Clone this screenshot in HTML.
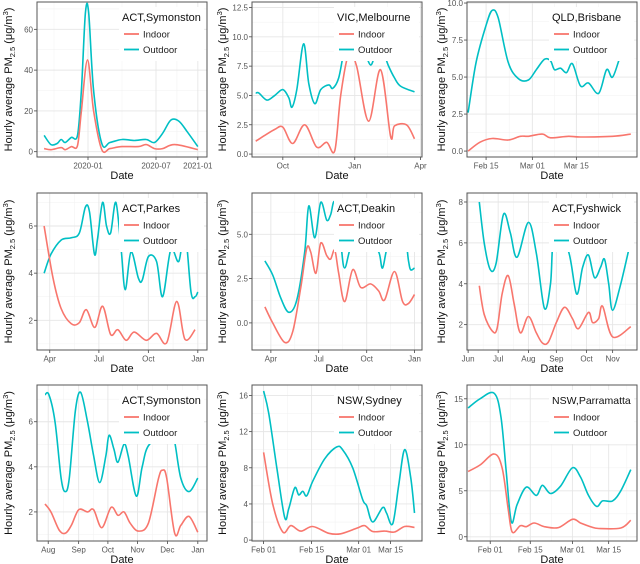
<!DOCTYPE html>
<html><head><meta charset="utf-8"><style>
html,body{margin:0;padding:0;background:#fff;}
svg{display:block;font-family:"Liberation Sans",Arial,sans-serif;}
</style></head><body>
<svg id="fig" width="640" height="564" viewBox="0 0 640 564"></svg>
<script>
// ---------- Panel 1: ACT,Symonston (2019-2021) ----------
const p1TickX=[30,70,94.6]; const p1TickLab=["2020-01","2020-07","2021-01"];
const p1YTicks=[0,20,40,60]; const p1YLab=["0","20","40","60"];
const p1OutX=[4.2,8.2,11.8,14.2,16.6,20.2,23.8,26.1,28.5,30.4,33.3,38.1,42.9,50,57.2,64.3,69.1,73.9,78.7,83.4,88.2,94.6];
const p1OutY=[8,3.5,4,6,4.5,7,8,30,68,68,30,4,4.5,6,5.5,6,4.5,9,15.5,15,10,2.5];
const p1InX=[4.2,8.2,14.2,16.6,20.2,23.8,26.1,29.7,33.3,38.1,42.9,50,59.6,64.3,69.1,73.9,81,94.6];
const p1InY=[1.5,1,2,1,2.5,3,20,45,20,1,1.5,2.5,2.5,3.5,1.5,1.5,3.5,1];
// ---------- Panel 2: VIC,Melbourne ----------
const p2TickX=[25.5,64,99.2]; const p2TickLab=["Oct","Jan","Apr"];
const p2YTicks=[0,2.5,5,7.5,10,12.5]; const p2YLab=["0.0","2.5","5.0","7.5","10.0","12.5"];
const p2OutX=[11,12.7,17,21.2,25.5,28.7,30.4,33,36.6,39.4,42.6,45.8,50.1,52.2,55.4,58.6,62.9,67.2,72.5,76.8,82.1,85.3,88.5,96];
const p2OutY=[5.2,5.2,4.6,5,5.5,4.8,4,5.5,9.4,6,4.3,5.5,5.9,5.6,6.5,9,11,10,7.6,9.5,7.5,6.5,5.8,5.3];
const p2InX=[11,15.9,21.2,25.5,30.8,37.2,43.6,49,53.3,56.5,60.7,65,71.4,77.8,83.2,85.3,91.7,96];
const p2InY=[1.1,1.6,2.1,2.3,0.9,2.5,0.6,1,0.3,5,8.5,7.5,2.8,7.2,1.5,2.4,2.5,1.3];
// ---------- Panel 3: QLD,Brisbane ----------
const p3TickX=[19.1,43.6,66.9]; const p3TickLab=["Feb 15","Mar 01","Mar 15"];
const p3YTicks=[0,2.5,5,7.5,10]; const p3YLab=["0.0","2.5","5.0","7.5","10.0"];
const p3OutX=[9.6,13.8,19.1,22.3,25.5,30.8,36.1,41.5,45.7,50,53.2,55.3,58.5,61.7,64.8,69.1,73.3,78.7,82.9,86.1,90.4,95.7];
const p3OutY=[2.6,6,8.5,9.5,9,6,4.9,4.8,5.5,6.2,6.1,5.5,5.6,5.3,5.9,4.4,4.6,3.9,5.5,5,6.5,8.2];
const p3InX=[9.6,15.9,22.3,30.8,37.2,41.5,48.9,53.2,62.7,69.1,86.1,95.7];
const p3InY=[0,0.6,0.85,0.75,1,1,1.15,0.9,1,0.95,1,1.15];
// ---------- Panel 4: ACT,Parkes ----------
const p4TickX=[7.5,36.4,65.5,94.6]; const p4TickLab=["Apr","Jul","Oct","Jan"];
const p4YTicks=[2,4,6]; const p4YLab=["2","4","6"];
const p4OutX=[4.2,8.2,14.2,20.2,24.9,28.5,30.9,33.8,35.7,38.6,40.9,43.3,46.4,49.5,51.9,55.3,59.6,61.9,65.5,70.3,73.9,78.7,83.4,87,90.6,93,94.6];
const p4OutY=[4,4.8,5.4,5.5,5.7,6.8,6.6,4.8,5.5,7,6,5.7,7,5,3.3,4.9,3.8,3.7,4.7,4.5,3,5,4.5,5.8,3.2,3,3.2];
const p4InX=[4.2,9.4,14.2,20.2,24.9,29,34,38.6,43.3,47.6,52.4,57.2,64.3,70.3,76.3,82.2,87,93];
const p4InY=[6,3.8,2.5,1.85,1.9,2.45,1.7,2.6,1.4,1.6,1.15,1.5,1.15,1.45,1.05,2.8,1.2,1.6];
// ---------- Panel 5: ACT,Deakin ----------
const p5TickX=[19.1,44.7,70.4,96]; const p5TickLab=["Apr","Jul","Oct","Jan"];
const p5YTicks=[0,2.5,5]; const p5YLab=["0.0","2.5","5.0"];
const p5OutX=[15.9,20.1,24.4,28.7,33,37.2,39.4,42.6,45.8,49,51.1,53.3,56.5,58.6,62.9,71.4,76.8,78.9,82.1,89.6,92.8,93.9,96];
const p5OutY=[3.5,2.7,1.4,0.6,1.3,4,6.6,4.8,6.8,5.8,6.1,6.8,4.5,3.1,4.5,4.5,4,3.1,4.5,5.6,3.5,3,3.1];
const p5InX=[15.9,20.1,26.5,30.8,35.1,38.3,40.4,43.2,45.8,49,51.1,53.3,55.4,58.6,62.9,67.2,72.5,76.8,80,85.3,89.6,92.8,96];
const p5InY=[0.9,0,-1.1,-0.5,2,4.2,4,2.8,4.5,3.8,3.6,4.1,2.8,1.2,3,2,2.2,1.8,1.3,2.9,1.2,1.1,1.6];
// ---------- Panel 6: ACT,Fyshwick ----------
const p6TickX=[9.6,25.5,41.5,56.3,72.3,86.1]; const p6TickLab=["Jun","Jul","Aug","Sep","Oct","Nov"];
const p6YTicks=[2,4,6,8]; const p6YLab=["2","4","6","8"];
const p6OutX=[15.5,18.1,21.3,24.4,28.3,31.9,35.5,41.5,45.7,50,53.2,55.3,62.7,67,70.2,73.3,76.5,79.7,81.8,84,86.1,90.4,95.7];
const p6OutY=[8,6,4.7,5,7.4,6.5,5.3,7,5.5,2.8,4,6.5,5.6,3.5,4.8,5.4,4.3,4.8,5.2,4,2.7,4,6.1];
const p6InX=[15.5,18.1,22.3,24.9,27.6,30.8,34,37.2,41.5,45.7,48.9,52.1,56.3,60.6,64.8,68,73.3,75.5,78.7,80.8,86.1,95.7];
const p6InY=[3.9,2.5,1.7,1.8,3.5,4.4,3,1.6,2.4,1.6,1.1,1.15,2.1,2.85,2.3,1.8,2.6,2.1,2.3,2.9,1.4,1.9];
// ---------- Panel 7: ACT,Symonston ----------
const p7TickX=[6.6,24.5,41.7,59.1,76.7,94.6]; const p7TickLab=["Aug","Sep","Oct","Nov","Dec","Jan"];
const p7YTicks=[2,4,6]; const p7YLab=["2","4","6"];
const p7OutX=[4.7,7,10.6,14.2,16.6,19,22.6,25.7,29.7,33.3,36.9,40.5,42.4,45.2,47.6,51.2,53.6,58.4,61.9,66.2,78.7,81,84.6,89.4,94.6];
const p7OutY=[7.2,7.2,6,3.5,2.9,3.5,6.5,7.3,6,4.5,3.3,4.5,5.4,4.8,4.2,5,4.5,2.7,4,5,5.5,5.1,3.5,2.9,3.5];
const p7InX=[4.7,8.2,13,16.6,20.2,24.5,29.7,33.3,38.1,43.6,47.6,51.2,54.8,59.6,65.5,71.5,73.9,76.3,81,84.6,89.4,94.6];
const p7InY=[2.35,2,1.2,1.05,1.4,2.1,2,2.1,1.3,2.2,1.85,2,1.5,1.15,1.5,3.5,3.85,3.5,1.05,1.4,1.8,1.1];
// ---------- Panel 8: NSW,Sydney ----------
const p8TickX=[15.2,40.9,66.1,83.2]; const p8TickLab=["Feb 01","Feb 15","Mar 01","Mar 15"];
const p8YTicks=[0,4,8,12,16]; const p8YLab=["0","4","8","12","16"];
const p8OutX=[15.2,18,22.3,26.5,28.7,31.9,34,36.2,38.3,41.5,47.9,54.3,57.5,62.9,68.2,70.4,73.6,78.9,81,84.3,87.5,90.7,93.9,96];
const p8OutY=[16.5,14,8,2.5,3.5,5.8,5,5.4,4.9,6.5,9,10.3,10,8,4.5,3.8,2,3.6,3,1.8,6,10,7,3];
const p8InX=[15.2,20.1,25.5,29.8,35.1,41.5,50.1,56.5,65,69.3,73.6,80,85.3,90.7,96];
const p8InY=[9.7,4,0.9,1.6,1,1.5,0.75,0.7,1.3,1.6,0.95,1,0.9,1.5,1.4];
// ---------- Panel 9: NSW,Parramatta ----------
const p9TickX=[21.3,42.5,64.8,84]; const p9TickLab=["Feb 01","Feb 15","Mar 01","Mar 15"];
const p9YTicks=[0,5,10,15]; const p9YLab=["0","5","10","15"];
const p9OutX=[9.6,15.9,23.4,27,29.8,32.5,35.5,40.4,45.7,48.9,53.2,58.5,64.8,69.1,73.3,77.6,80.8,86.1,90.4,95.7];
const p9OutY=[14,15,15.6,13,7,1.6,3.5,5.4,4.5,5.6,4.7,5.5,7.5,6.5,4.5,3.3,3.9,3.9,5,7.3];
const p9InX=[9.6,15.9,23.4,27.6,30.8,33,37.2,40.4,44.6,50,57.4,64.8,69.1,74.4,78.7,90.4,95.7];
const p9InY=[7.1,7.8,9,7.5,3,0.5,1.2,1.1,1.5,1.1,1,1.9,1.5,1.1,0.9,0.95,1.8];

const panels=[
 {name:"ACT,Symonston",box:[37,2,207,157],xd:[0,100],yd:[-2.6,73.4],tx:p1TickX,tl:p1TickLab,yt:p1YTicks,yl:p1YLab,ox:p1OutX,oy:p1OutY,ix:p1InX,iy:p1InY,yt0:8},
 {name:"VIC,Melbourne",box:[252,2,422,157],xd:[9,100],yd:[-0.25,12.97],tx:p2TickX,tl:p2TickLab,yt:p2YTicks,yl:p2YLab,ox:p2OutX,oy:p2OutY,ix:p2InX,iy:p2InY,yt0:222},
 {name:"QLD,Brisbane",box:[467,2,637,157],xd:[9,99],yd:[-0.4,10.07],tx:p3TickX,tl:p3TickLab,yt:p3YTicks,yl:p3YLab,ox:p3OutX,oy:p3OutY,ix:p3InX,iy:p3InY,yt0:441},
 {name:"ACT,Parkes",box:[37,193,207,350],xd:[0,100],yd:[0.74,7.4],tx:p4TickX,tl:p4TickLab,yt:p4YTicks,yl:p4YLab,ox:p4OutX,oy:p4OutY,ix:p4InX,iy:p4InY,yt0:8},
 {name:"ACT,Deakin",box:[252,193,422,350],xd:[9,100],yd:[-1.53,7.33],tx:p5TickX,tl:p5TickLab,yt:p5YTicks,yl:p5YLab,ox:p5OutX,oy:p5OutY,ix:p5InX,iy:p5InY,yt0:222},
 {name:"ACT,Fyshwick",box:[467,193,637,350],xd:[9,99],yd:[0.76,8.44],tx:p6TickX,tl:p6TickLab,yt:p6YTicks,yl:p6YLab,ox:p6OutX,oy:p6OutY,ix:p6InX,iy:p6InY,yt0:441},
 {name:"ACT,Symonston",box:[37,385,207,541],xd:[0,100],yd:[0.71,7.63],tx:p7TickX,tl:p7TickLab,yt:p7YTicks,yl:p7YLab,ox:p7OutX,oy:p7OutY,ix:p7InX,iy:p7InY,yt0:8},
 {name:"NSW,Sydney",box:[252,385,422,541],xd:[9,100],yd:[-0.1,17.16],tx:p8TickX,tl:p8TickLab,yt:p8YTicks,yl:p8YLab,ox:p8OutX,oy:p8OutY,ix:p8InX,iy:p8InY,yt0:222},
 {name:"NSW,Parramatta",box:[467,385,637,541],xd:[9,99],yd:[-0.46,16.5],tx:p9TickX,tl:p9TickLab,yt:p9YTicks,yl:p9YLab,ox:p9OutX,oy:p9OutY,ix:p9InX,iy:p9InY,yt0:441}
];
const NS="http://www.w3.org/2000/svg";
const fig=document.getElementById('fig');
function mk(tag,attrs,parent){const e=document.createElementNS(NS,tag);for(const k in attrs)e.setAttribute(k,attrs[k]);(parent||fig).appendChild(e);return e;}
function smooth(pts){let d="M"+pts[0][0].toFixed(1)+","+pts[0][1].toFixed(1);
 for(let i=0;i<pts.length-1;i++){const p0=pts[i-1]||pts[i],p1=pts[i],p2=pts[i+1],p3=pts[i+2]||p2;
  const c1=[p1[0]+(p2[0]-p0[0])/6,p1[1]+(p2[1]-p0[1])/6],c2=[p2[0]-(p3[0]-p1[0])/6,p2[1]-(p3[1]-p1[1])/6];
  d+="C"+c1.map(v=>v.toFixed(1)).join(",")+" "+c2.map(v=>v.toFixed(1)).join(",")+" "+p2[0].toFixed(1)+","+p2[1].toFixed(1);}
 return d;}
panels.forEach((p,pi)=>{
 const [L,T,R,B]=p.box;
 const g=mk('g',{});
 
 
 const sx=v=>L+(v-p.xd[0])/(p.xd[1]-p.xd[0])*(R-L);
 const sy=v=>B-(v-p.yd[0])/(p.yd[1]-p.yd[0])*(B-T);
 const cp=mk('clipPath',{id:'c'+pi},g);mk('rect',{x:L,y:T,width:R-L,height:B-T},cp);
 const ys=p.yt,st=ys[1]-ys[0];
 for(let v=ys[0]-st/2;v<=p.yd[1];v+=st){if(v<p.yd[0])continue;const gl=mk('line',{x1:L,x2:R,y1:sy(v),y2:sy(v),stroke:'#F3F3F3','stroke-width':0.6},g);}
 for(let i=0;i<=p.tx.length;i++){let m;
   if(i==0)m=p.tx[0]-(p.tx[1]-p.tx[0])/2;else if(i==p.tx.length)m=p.tx[i-1]+(p.tx[i-1]-p.tx[i-2])/2;else m=(p.tx[i-1]+p.tx[i])/2;
   if(m>p.xd[0]&&m<p.xd[1]){const gl=mk('line',{x1:sx(m),x2:sx(m),y1:T,y2:B,stroke:'#F3F3F3','stroke-width':0.6},g);}}
 p.yt.forEach((v,i)=>{const y=sy(v);
  const gl=mk('line',{x1:L,x2:R,y1:y,y2:y,stroke:'#E6E6E6','stroke-width':0.9},g);
  
  mk('line',{x1:L-3,x2:L,y1:y,y2:y,stroke:'#444','stroke-width':0.8},g);
  const t=mk('text',{x:L-4,y:y+3,'text-anchor':'end','font-size':8,fill:'#555'},g);t.textContent=p.yl[i];
  });
 p.tx.forEach((v,i)=>{const x=sx(v);
  const gl=mk('line',{x1:x,x2:x,y1:T,y2:B,stroke:'#E6E6E6','stroke-width':0.9},g);
  
  mk('line',{x1:x,x2:x,y1:B,y2:B+3,stroke:'#444','stroke-width':0.8},g);
  const t=mk('text',{x:x,y:B+11.5,'text-anchor':'middle','font-size':8,fill:'#555'},g);t.textContent=p.tl[i];
  });
 const lg=mk('g',{'clip-path':'url(#c'+pi+')'},g);
 const lo=mk('path',{d:smooth(p.ox.map((x,i)=>[sx(x),sy(p.oy[i])])),fill:'none',stroke:'#00BFC4','stroke-width':1.6},lg);
 
 const li=mk('path',{d:smooth(p.ix.map((x,i)=>[sx(x),sy(p.iy[i])])),fill:'none',stroke:'#F8766D','stroke-width':1.6},lg);
 
 const kx=R-83;
 const lb=mk('rect',{x:kx-5,y:T+5,width:R-kx+2,height:54,fill:'#fff'},g);
 
 const tt=mk('text',{x:kx-2,y:T+19,'font-size':p.name.length>13?10.5:11,fill:'#111'},g);tt.textContent=p.name;
 
 [["Indoor","#F8766D",32],["Outdoor","#00BFC4",47.5]].forEach(e=>{
  const eg=mk('g',{},g);
  mk('line',{x1:kx,x2:kx+15,y1:T+e[2],y2:T+e[2],stroke:e[1],'stroke-width':1.8},eg);
  const t=mk('text',{x:kx+19,y:T+e[2]+3.5,'font-size':9.5,fill:'#222'},eg);t.textContent=e[0];});
 const bd=mk('rect',{x:L,y:T,width:R-L,height:B-T,fill:'none',stroke:'#555','stroke-width':1},g);
 
 const xt=mk('text',{x:(L+R)/2,y:B+22,'text-anchor':'middle','font-size':11,fill:'#111'},g);xt.textContent="Date";
 
 const cy=(T+B)/2,cx=p.yt0;
 const yt=mk('text',{x:cx,y:cy,'text-anchor':'middle','font-size':11,fill:'#111',transform:'rotate(-90 '+cx+' '+cy+')',dy:4},g);
 
 yt.appendChild(document.createTextNode("Hourly average PM"));
 const s1=mk('tspan',{'font-size':7.5,dy:3},yt);s1.textContent="2.5";
 const s2=mk('tspan',{dy:-3},yt);s2.textContent=" (μg/m";
 const s3=mk('tspan',{'font-size':7.5,dy:-4},yt);s3.textContent="3";
 const s4=mk('tspan',{dy:4},yt);s4.textContent=")";
});
</script>
</body></html>
